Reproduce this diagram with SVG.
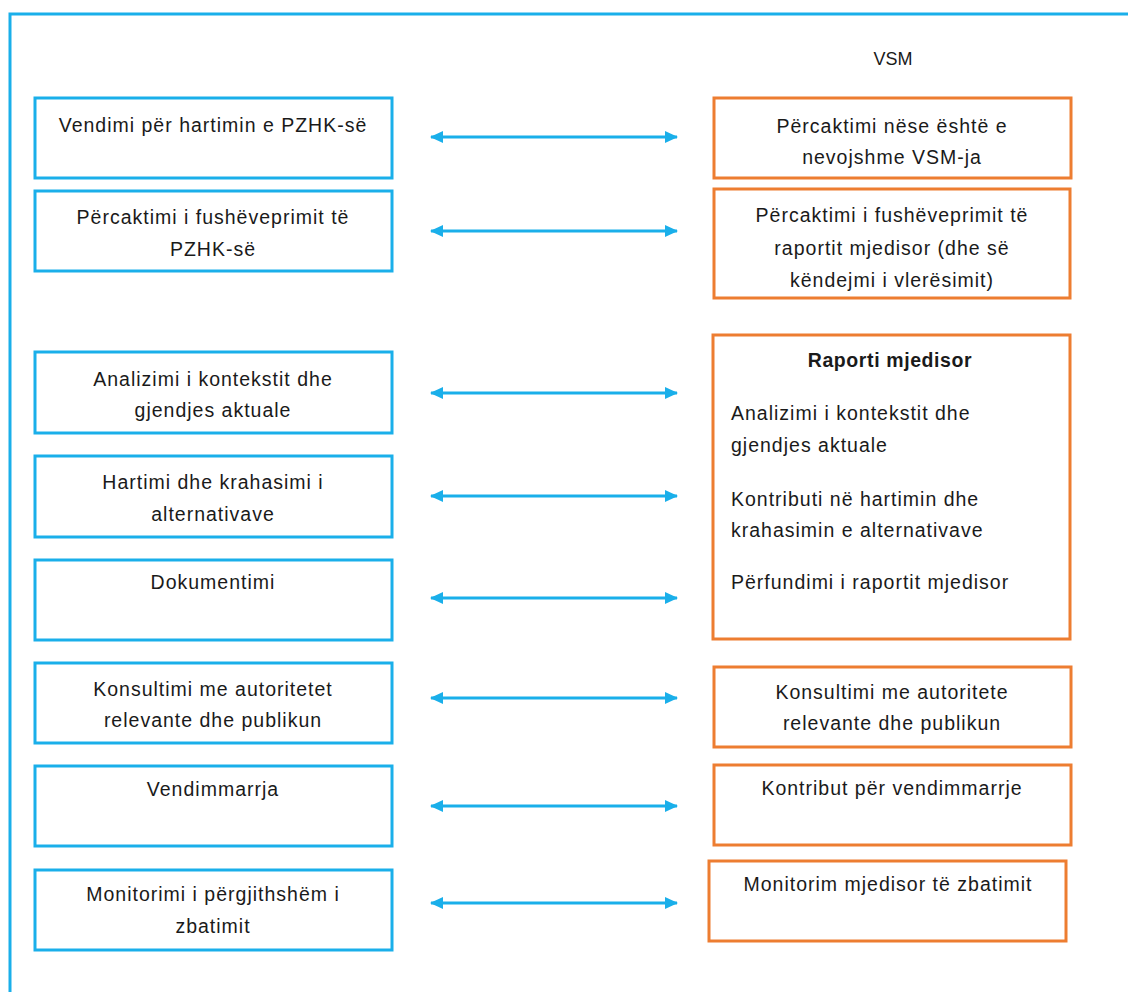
<svg xmlns="http://www.w3.org/2000/svg" width="1128" height="992" viewBox="0 0 1128 992">
<defs>
<marker id="ah" viewBox="0 0 13 12" refX="12" refY="6" markerWidth="13" markerHeight="12" markerUnits="userSpaceOnUse" orient="auto-start-reverse">
<path d="M0,0 L13,6 L0,12 z" fill="#1AAFEA"/>
</marker>
<style>
.b{fill:#fff;stroke:#1AAFEA;stroke-width:3}
.o{fill:#fff;stroke:#ED7D31;stroke-width:3}
.t{font-family:"Liberation Sans",Arial,sans-serif;font-size:19.5px;letter-spacing:1px;fill:#1a1a1a;text-anchor:middle}
.l{text-anchor:start}
.bold{font-weight:bold;letter-spacing:0.6px}
.v{font-size:18px;letter-spacing:0}
.c{stroke:#1AAFEA;stroke-width:3;fill:none;marker-start:url(#ah);marker-end:url(#ah)}
</style>
</defs>
<rect width="1128" height="992" fill="#fff"/>
<path d="M1128,14 H10 V992" fill="none" stroke="#1AAFEA" stroke-width="3"/>
<text class="t v" x="893" y="65">VSM</text>

<g id="L1"><rect class="b" x="35" y="98" width="357" height="80"/><text class="t" x="213" y="132">Vendimi për hartimin e PZHK-së</text></g>
<g id="L2"><rect class="b" x="35" y="191" width="357" height="80"/><text class="t" x="213" y="224">Përcaktimi i fushëveprimit të</text><text class="t" x="213" y="256">PZHK-së</text></g>
<g id="L3"><rect class="b" x="35" y="352" width="357" height="81"/><text class="t" x="213" y="386">Analizimi i kontekstit dhe</text><text class="t" x="213" y="417">gjendjes aktuale</text></g>
<g id="L4"><rect class="b" x="35" y="456" width="357" height="81"/><text class="t" x="213" y="489">Hartimi dhe krahasimi i</text><text class="t" x="213" y="521">alternativave</text></g>
<g id="L5"><rect class="b" x="35" y="560" width="357" height="80"/><text class="t" x="213" y="589">Dokumentimi</text></g>
<g id="L6"><rect class="b" x="35" y="663" width="357" height="80"/><text class="t" x="213" y="696">Konsultimi me autoritetet</text><text class="t" x="213" y="727">relevante dhe publikun</text></g>
<g id="L7"><rect class="b" x="35" y="766" width="357" height="80"/><text class="t" x="213" y="796">Vendimmarrja</text></g>
<g id="L8"><rect class="b" x="35" y="870" width="357" height="80"/><text class="t" x="213" y="901">Monitorimi i përgjithshëm i</text><text class="t" x="213" y="933">zbatimit</text></g>

<g id="R1"><rect class="o" x="714" y="98" width="357" height="80"/><text class="t" x="892" y="133">Përcaktimi nëse është e</text><text class="t" x="892" y="164">nevojshme VSM-ja</text></g>
<g id="R2"><rect class="o" x="714" y="189" width="356" height="109"/><text class="t" x="892" y="222">Përcaktimi i fushëveprimit të</text><text class="t" x="892" y="255">raportit mjedisor (dhe së</text><text class="t" x="892" y="287">këndejmi i vlerësimit)</text></g>
<g id="R3"><rect class="o" x="713" y="335" width="357" height="304"/><text class="t bold" x="890" y="367">Raporti mjedisor</text><text class="t l" x="731" y="420">Analizimi i kontekstit dhe</text><text class="t l" x="731" y="452">gjendjes aktuale</text><text class="t l" x="731" y="506">Kontributi në hartimin dhe</text><text class="t l" x="731" y="537">krahasimin e alternativave</text><text class="t l" x="731" y="589">Përfundimi i raportit mjedisor</text></g>
<g id="R4"><rect class="o" x="714" y="667" width="357" height="80"/><text class="t" x="892" y="699">Konsultimi me autoritete</text><text class="t" x="892" y="730">relevante dhe publikun</text></g>
<g id="R5"><rect class="o" x="714" y="765" width="357" height="80"/><text class="t" x="892" y="795">Kontribut për vendimmarrje</text></g>
<g id="R6"><rect class="o" x="709" y="861" width="357" height="80"/><text class="t" x="888" y="891">Monitorim mjedisor të zbatimit</text></g>

<g id="connectors">
<line class="c" x1="431" y1="137" x2="677" y2="137"/>
<line class="c" x1="431" y1="231" x2="677" y2="231"/>
<line class="c" x1="431" y1="393" x2="677" y2="393"/>
<line class="c" x1="431" y1="496" x2="677" y2="496"/>
<line class="c" x1="431" y1="598" x2="677" y2="598"/>
<line class="c" x1="431" y1="698" x2="677" y2="698"/>
<line class="c" x1="431" y1="806" x2="677" y2="806"/>
<line class="c" x1="431" y1="903" x2="677" y2="903"/>
</g>
</svg>
